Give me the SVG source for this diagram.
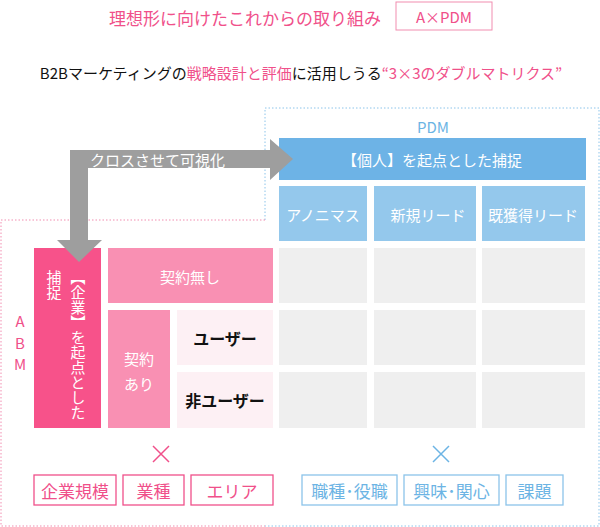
<svg xmlns="http://www.w3.org/2000/svg" width="600" height="527" viewBox="0 0 600 527">
<style>
text{font-family:"Noto Sans CJK JP","Noto Sans",sans-serif;text-anchor:middle;dominant-baseline:central}
.pk{fill:#f0508a}.bl{fill:#6cb4e4}.w{fill:#fff}.k{fill:#111}
.g{fill:#efefef}
.pb{fill:#fff;stroke:#f0508a;stroke-width:1.3}
.bb{fill:#fff;stroke:#8cc4ea;stroke-width:1.3}
</style>
<rect width="600" height="527" fill="#fff"/>
<g id="title">
<text x="245" y="17" font-size="17" class="pk">理想形に向けたこれからの取り組み</text>
<rect x="396" y="2" width="96" height="28" fill="#fff" stroke="#f18db0" stroke-width="1"/>
<text x="444" y="16" font-size="15" class="pk">A×PDM</text>
<text x="301" y="72" font-size="15" class="k">B2Bマーケティングの<tspan class="pk">戦略設計と評価</tspan>に活用しうる<tspan class="pk">“3×3のダブルマトリクス”</tspan></text>
</g>
<g id="frames" fill="none" stroke-dasharray="1.5 2" stroke-width="1">
<path d="M265 220V108H599V526H265" stroke="#8cc4ea"/>
<path d="M265 220H1V526H265" stroke="#f18db0"/>
</g>
<g id="pdm">
<text x="433" y="126" font-size="15" class="bl">PDM</text>
<rect x="279" y="138" width="307" height="42" fill="#6db3e6"/>
<text x="432" y="159" font-size="15" class="w">【個人】を起点とした捕捉</text>
<rect x="279" y="186" width="88" height="55" fill="#94c8ec"/><text x="323" y="214" font-size="15" class="w">アノニマス</text>
<rect x="374" y="186" width="102" height="55" fill="#94c8ec"/><text x="428" y="214" font-size="15" class="w">新規リード</text>
<rect x="482" y="186" width="103" height="55" fill="#94c8ec"/><text x="533" y="214" font-size="15" class="w">既獲得リード</text>
</g>
<g id="grid">
<rect x="279" y="248" width="88" height="55" class="g"/><rect x="374" y="248" width="102" height="55" class="g"/><rect x="482" y="248" width="103" height="55" class="g"/>
<rect x="279" y="310" width="88" height="55" class="g"/><rect x="374" y="310" width="102" height="55" class="g"/><rect x="482" y="310" width="103" height="55" class="g"/>
<rect x="279" y="372" width="88" height="56" class="g"/><rect x="374" y="372" width="102" height="56" class="g"/><rect x="482" y="372" width="103" height="56" class="g"/>
</g>
<g id="abm">
<text x="20" y="320" font-size="15" class="pk">A</text>
<text x="20" y="342" font-size="15" class="pk">B</text>
<text x="20" y="363" font-size="15" class="pk">M</text>
<rect x="34" y="248" width="67" height="180" fill="#f7528a"/>
<text x="54" y="270" font-size="15" class="w" writing-mode="tb" style="text-anchor:start">捕捉</text>
<text x="78" y="270" font-size="15" class="w" writing-mode="tb" style="text-anchor:start">【企業】を起点とした</text>
<rect x="108" y="248" width="165" height="55" fill="#f990b3"/><text x="190" y="276" font-size="15" class="w">契約無し</text>
<rect x="108" y="310" width="62" height="118" fill="#f990b3"/>
<text x="139" y="358" font-size="15" class="w">契約</text><text x="139" y="383" font-size="15" class="w">あり</text>
<rect x="177" y="310" width="96" height="55" fill="#fdf0f4"/><text x="225" y="338" font-size="16" font-weight="bold" class="k">ユーザー</text>
<rect x="177" y="372" width="96" height="56" fill="#fdf0f4"/><text x="225" y="400" font-size="16" font-weight="bold" class="k">非ユーザー</text>
</g>
<g id="connectors">
<path d="M70 262V150H270V139L293 159L270 180V168H88V240H102L79 262L57 240H70Z" fill="#9e9e9e"/>
<text x="90" y="159" font-size="15" class="w" style="text-anchor:start">クロスさせて可視化</text>
</g>
<g id="attrs">
<path d="M153 446L169 462M169 446L153 462" stroke="#f0508a" stroke-width="1.5"/>
<path d="M433 446L449 462M449 446L433 462" stroke="#6cb4e4" stroke-width="1.5"/>
<rect x="34" y="475" width="82" height="30" class="pb"/><text x="75" y="490" font-size="17" class="pk">企業規模</text>
<rect x="123" y="475" width="61" height="30" class="pb"/><text x="153.5" y="490" font-size="17" class="pk">業種</text>
<rect x="191" y="475" width="82" height="30" class="pb"/><text x="232" y="490" font-size="17" class="pk">エリア</text>
<rect x="302" y="475" width="95" height="30" class="bb"/><text x="349.5" y="490" font-size="17" class="bl">職種･役職</text>
<rect x="404" y="475" width="95" height="30" class="bb"/><text x="451.5" y="490" font-size="17" class="bl">興味･関心</text>
<rect x="506" y="475" width="57" height="30" class="bb"/><text x="534.5" y="490" font-size="17" class="bl">課題</text>
</g>
</svg>
